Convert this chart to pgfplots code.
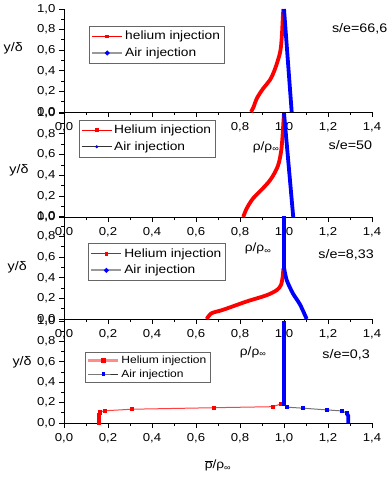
\documentclass[border=0pt]{standalone}
\usepackage{fontspec}
\setmainfont{Liberation Sans}[FakeStretch=1.15]
\usepackage{pgfplots}
\pgfplotsset{compat=1.18}

\definecolor{hered}{RGB}{255,0,0}
\definecolor{airblue}{RGB}{0,0,255}

% one Origin-style panel, 308 x 103 px
\pgfplotsset{
  panel/.style={
    scale only axis, width=308bp, height=103bp,
    anchor=south west, clip=false,
    xmin=0, xmax=1.4, ymin=0, ymax=1,
    axis x line*=bottom, axis y line*=left,
    axis line style={line width=0.9bp},
    tick align=outside,
    tick style={line width=0.9bp, black},
    major tick length=5bp, minor tick length=3bp,
    xtick={0,0.2,0.4,0.6,0.8,1.0,1.2,1.4},
    ytick={0,0.2,0.4,0.6,0.8,1.0},
    minor x tick num=1, minor y tick num=1,
    /pgf/number format/.cd, use comma, fixed, fixed zerofill, precision=1,
      assume math mode=true,
    /pgfplots/.cd,
    tick label style={font=\fontsize{11.5}{13}\selectfont},
    xticklabel style={yshift=-2bp},
    legend cell align=left,
    legend style={draw=black!60, fill=white, line width=0.6bp,
      font=\fontsize{12}{14}\selectfont, inner xsep=2bp, inner ysep=3bp,
      row sep=2.5bp, anchor=north west},
  },
  legend image code/.code={\draw[mark repeat=2,mark phase=2,#1]
    plot coordinates {(0bp,0bp) (15bp,0bp) (30bp,0bp)};},
  thickred/.style={hered, line width=3.8bp, no markers, forget plot},
  thickblue/.style={airblue, line width=3.8bp, no markers, forget plot},
}

\newcommand{\rr}{ρ/ρ\textsubscript{∞}}

\begin{document}
\begin{tikzpicture}

% ---------- s/e = 66,6 ----------
\begin{axis}[panel, at={(64bp,-112bp)},
  legend style={at={(rel axis cs:0.081,0.835)}}]
  \addlegendimage{hered, line width=0.8bp, mark=square*, mark size=1.4bp}
  \addlegendentry{helium injection}
  \addlegendimage{black!40, line width=2bp, mark=*, mark size=1.2bp,
    mark options={airblue, draw=airblue}}
  \addlegendentry{Air injection}
  \addplot[thickred, smooth, tension=0.6] coordinates {
    (0.850,0.00) (0.862,0.05) (0.876,0.13) (0.906,0.23) (0.936,0.31)
    (0.956,0.40) (0.972,0.50) (0.984,0.60) (0.990,0.73) (0.994,0.89)
    (0.997,1.00)};
  \addplot[thickblue] coordinates {(1.035,0.00) (1.000,1.00)};
  \node[font=\fontsize{12.5}{14}\selectfont] at (rel axis cs:-0.165,0.62) {y/δ};
  \node[font=\fontsize{12}{14}\selectfont] at (rel axis cs:0.656,-0.34) {\rr};
  \node[font=\fontsize{12.5}{14}\selectfont] at (rel axis cs:0.96,0.81) {s/e=66,6};
\end{axis}

% ---------- s/e = 50 ----------
\begin{axis}[panel, at={(64bp,-217bp)}, height=104bp,
  legend style={at={(rel axis cs:0.049,0.935)}}]
  \addlegendimage{hered, line width=0.7bp, mark=square*, mark size=1.4bp}
  \addlegendentry{Helium injection}
  \addlegendimage{black!80, line width=0.7bp, mark=*, mark size=1.2bp,
    mark options={airblue, draw=airblue}}
  \addlegendentry{Air injection}
  \addplot[thickred, smooth, tension=0.6] coordinates {
    (0.815,0.00) (0.830,0.08) (0.860,0.18) (0.906,0.28) (0.942,0.37)
    (0.972,0.49) (0.986,0.62) (0.992,0.74) (0.997,0.90) (1.000,1.00)};
  \addplot[thickblue] coordinates {(1.042,0.00) (1.000,1.00)};
  \node[font=\fontsize{12.5}{14}\selectfont] at (rel axis cs:-0.146,0.45) {y/δ};
  \node[font=\fontsize{12}{14}\selectfont] at (rel axis cs:0.63,-0.30) {\rr};
  \node[font=\fontsize{12.5}{14}\selectfont] at (rel axis cs:0.93,0.69) {s/e=50};
\end{axis}

% ---------- s/e = 8,33 ----------
\begin{axis}[panel, at={(64bp,-319bp)},
  legend style={at={(rel axis cs:0.078,0.735)}}]
  \addlegendimage{hered, line width=0.8bp, mark=square*, mark size=1.4bp}
  \addlegendentry{Helium injection}
  \addlegendimage{black!40, line width=2bp, mark=*, mark size=1.2bp,
    mark options={airblue, draw=airblue}}
  \addlegendentry{Air injection}
  \addplot[thickred, smooth, tension=0.5] coordinates {
    (0.649,0.000) (0.670,0.055) (0.724,0.090) (0.830,0.170) (0.920,0.230)
    (0.967,0.280) (0.986,0.330) (0.994,0.410) (0.997,0.490)};
  \addplot[thickblue] coordinates {(1.000,1.00) (1.000,0.50)};
  \addplot[thickblue, smooth, tension=0.5] coordinates {
    (1.000,0.50) (1.012,0.38) (1.040,0.25) (1.073,0.14) (1.103,0.00)};
  \node[font=\fontsize{12.5}{14}\selectfont] at (rel axis cs:-0.152,0.50) {y/δ};
  \node[font=\fontsize{12}{14}\selectfont] at (rel axis cs:0.614,-0.32) {\rr};
  \node[font=\fontsize{12.5}{14}\selectfont] at (rel axis cs:0.916,0.62) {s/e=8,33};
\end{axis}

% ---------- s/e = 0,3 ----------
\begin{axis}[panel, at={(64bp,-423bp)}, height=102bp,
  legend style={at={(rel axis cs:0.068,0.70)},
    font=\fontsize{10.5}{12}\selectfont, inner ysep=2bp, row sep=0.5bp}]
  \addlegendimage{hered!45, line width=2.2bp, mark=square*, mark size=1.4bp,
    mark options={hered, draw=hered}}
  \addlegendentry{Helium injection}
  \addlegendimage{black!80, line width=0.7bp, mark=square*, mark size=1.2bp,
    mark options={airblue, draw=airblue}}
  \addlegendentry{Air injection}
  % helium: markers joined by a thin red line
  \addplot[hered!75, line width=1bp, mark=square*, mark size=1.6bp,
    mark options={hered, draw=hered}, forget plot] coordinates {
    (0.160,0.000) (0.160,0.025) (0.160,0.050) (0.160,0.075) (0.162,0.095)
    (0.165,0.110) (0.186,0.120) (0.308,0.135) (0.683,0.150) (0.949,0.160)
    (0.986,0.187)};
  % air: dense vertical part, then markers joined by a grey line
  \addplot[airblue, line width=3.8bp, forget plot] coordinates {
    (1.000,1.00) (1.000,0.19)};
  \addplot[black!55, line width=1bp, mark=square*, mark size=1.6bp,
    mark options={airblue, draw=airblue}, forget plot] coordinates {
    (1.000,0.190) (1.015,0.155) (1.088,0.145) (1.197,0.128) (1.265,0.118)
    (1.285,0.095)};
  \addplot[airblue, line width=3.8bp, forget plot] coordinates {
    (1.285,0.095) (1.292,0.070) (1.292,0.000)};
  \node[font=\fontsize{12.5}{14}\selectfont] at (rel axis cs:-0.136,0.60) {y/δ};
  \node[font=\fontsize{12}{14}\selectfont] at (rel axis cs:0.50,-0.42)
    {$\overline{\mbox{ρ}}$/ρ\textsubscript{∞}};
  \node[font=\fontsize{12.5}{14}\selectfont] at (rel axis cs:0.916,0.67) {s/e=0,3};
\end{axis}

\pgfresetboundingbox
\path[use as bounding box] (0bp,0bp) rectangle (391bp,-480bp);
\end{tikzpicture}
\end{document}
